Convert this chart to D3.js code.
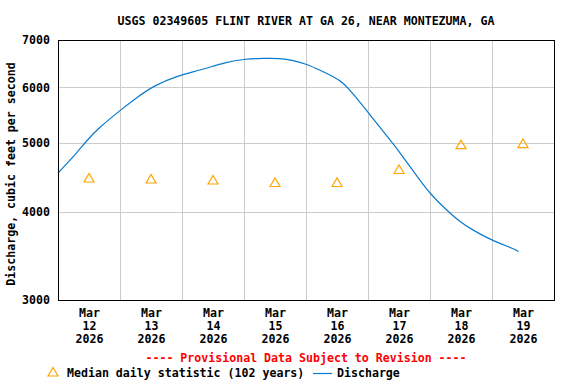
<!DOCTYPE html>
<html>
<head>
<meta charset="utf-8">
<script src="https://cdn.jsdelivr.net/npm/d3@7"></script>
<style>
  html, body { margin: 0; padding: 0; background: #fff; }
  svg { display: block; }
  text { font-family: "DejaVu Sans Mono", monospace; font-weight: bold; font-size: 11.6px; }
</style>
</head>
<body>
<div id="chart"></div>
<script>
// ---- data ----
const TITLE = 'USGS 02349605 FLINT RIVER AT GA 26, NEAR MONTEZUMA, GA';
const Y_LABEL = 'Discharge, cubic feet per second';
const Y_TICKS = [3000, 4000, 5000, 6000, 7000];

// discharge, instantaneous values (time, cfs)
const dischargeTimes = [
  '2026-03-12T00:00', '2026-03-12T07:00', '2026-03-12T11:00', '2026-03-12T16:00',
  '2026-03-13T00:00', '2026-03-13T06:30', '2026-03-13T13:00', '2026-03-13T22:00',
  '2026-03-14T07:00', '2026-03-14T17:20', '2026-03-14T23:45', '2026-03-15T07:30',
  '2026-03-15T14:00', '2026-03-15T19:00', '2026-03-16T00:15', '2026-03-16T05:25',
  '2026-03-16T10:35', '2026-03-16T14:25', '2026-03-16T18:20', '2026-03-16T23:30',
  '2026-03-17T04:40', '2026-03-17T09:50', '2026-03-17T15:00', '2026-03-17T20:10',
  '2026-03-18T00:00', '2026-03-18T06:30', '2026-03-18T11:40', '2026-03-18T16:45',
  '2026-03-18T21:55', '2026-03-19T03:05', '2026-03-19T08:15', '2026-03-19T10:15'
];
const dischargeValues = [
  4538, 4830, 5040, 5265,
  5564, 5804, 6029, 6228,
  6344, 6517, 6575, 6596,
  6596, 6553, 6469, 6345,
  6215, 6094, 5868, 5559,
  5265, 4990, 4700, 4429,
  4242, 4018, 3868, 3765,
  3677, 3606, 3548, 3514
];

// median daily statistic (102 years), plotted at noon
const medianDays = ['2026-03-12', '2026-03-13', '2026-03-14', '2026-03-15',
                    '2026-03-16', '2026-03-17', '2026-03-18', '2026-03-19'];
const medianValues = [4465, 4450, 4436, 4400, 4400, 4590, 4978, 4995];

// ---- layout ----
const W = 576, H = 384;
const M = { left: 58, right: 22, top: 40, bottom: 84 };
const innerW = W - M.left - M.right;
const innerH = H - M.top - M.bottom;
const COLORS = { line: '#0a7acc', median: '#ffa500', grid: '#cccccc', warn: '#ff0000' };

const parseT = d3.timeParse('%Y-%m-%dT%H:%M');
const parseD = d3.timeParse('%Y-%m-%d');

const discharge = dischargeTimes.map((t, i) => ({ t: parseT(t), v: dischargeValues[i] }));
const medians = medianDays.map((d, i) => ({ t: d3.timeHour.offset(parseD(d), 12), v: medianValues[i] }));

const x = d3.scaleTime()
  .domain([parseD('2026-03-12'), parseD('2026-03-20')])
  .range([0, innerW]);
const y = d3.scaleLog()
  .domain([3000, 7000])
  .range([innerH, 0]);

const svg = d3.select('#chart').append('svg')
  .attr('width', W).attr('height', H)
  .attr('viewBox', `0 0 ${W} ${H}`);

svg.append('text')
  .attr('x', M.left + innerW / 2)
  .attr('y', 24.5)
  .attr('text-anchor', 'middle')
  .text(TITLE);

const g = svg.append('g').attr('transform', `translate(${M.left},${M.top})`);

// gridlines
const dayLines = d3.timeDay.range(parseD('2026-03-13'), parseD('2026-03-20'));
g.append('g').selectAll('line.vg')
  .data(dayLines).join('line')
  .attr('x1', d => Math.round(x(d)) + 0.5).attr('x2', d => Math.round(x(d)) + 0.5)
  .attr('y1', 0).attr('y2', innerH)
  .attr('stroke', COLORS.grid).attr('stroke-width', 1.5)
  .attr('shape-rendering', 'crispEdges');
g.append('g').selectAll('line.hg')
  .data([4000, 5000, 6000]).join('line')
  .attr('x1', 0).attr('x2', innerW)
  .attr('y1', d => Math.round(y(d)) + 0.5).attr('y2', d => Math.round(y(d)) + 0.5)
  .attr('stroke', COLORS.grid).attr('stroke-width', 1.5)
  .attr('shape-rendering', 'crispEdges');

// y axis labels
const yAxis = g.append('g').call(d3.axisLeft(y).tickValues(Y_TICKS).tickFormat(d3.format('d')).tickSize(0).tickPadding(8));
yAxis.select('.domain').remove();
yAxis.selectAll('text').attr('font-size', null).attr('font-family', null).attr('fill', '#000');

// x axis labels: three lines at noon of each day
const noonTicks = medianDays.map(d => d3.timeHour.offset(parseD(d), 12));
const xAxis = g.append('g').attr('transform', `translate(0,${innerH})`)
  .call(d3.axisBottom(x).tickValues(noonTicks).tickSize(0).tickFormat(''));
xAxis.select('.domain').remove();
xAxis.selectAll('.tick').append('text')
  .attr('fill', '#000')
  .attr('text-anchor', 'middle')
  .selectAll('tspan')
  .data(d => [d3.timeFormat('%b')(d), d3.timeFormat('%d')(d), d3.timeFormat('%Y')(d)])
  .join('tspan')
  .attr('x', 0)
  .attr('y', (d, i) => 16.5 + i * 13.3)
  .text(d => d);

// discharge line
const line = d3.line().x(d => x(d.t)).y(d => y(d.v)).curve(d3.curveBasis);
g.append('path')
  .datum(discharge)
  .attr('fill', 'none')
  .attr('stroke', COLORS.line)
  .attr('stroke-width', 1.2)
  .attr('d', line);

// median triangles
const tri = (cx, cy) => `M${cx - 5},${cy + 4}L${cx},${cy - 4.5}L${cx + 5},${cy + 4}Z`;
g.append('g').selectAll('path')
  .data(medians).join('path')
  .attr('d', d => tri(x(d.t), y(d.v)))
  .attr('fill', 'none')
  .attr('stroke', COLORS.median)
  .attr('stroke-width', 1.2);

// frame
g.append('rect')
  .attr('x', 0.5).attr('y', 0.5)
  .attr('width', innerW).attr('height', innerH)
  .attr('fill', 'none').attr('stroke', '#000').attr('stroke-width', 1.5)
  .attr('shape-rendering', 'crispEdges');

// y axis title
svg.append('text')
  .attr('transform', `translate(15,174) rotate(-90)`)
  .attr('text-anchor', 'middle')
  .text(Y_LABEL);

// provisional notice
svg.append('text')
  .attr('x', M.left + innerW / 2)
  .attr('y', 361.5)
  .attr('text-anchor', 'middle')
  .attr('fill', COLORS.warn)
  .text('---- Provisional Data Subject to Revision ----');

// legend
const leg = svg.append('g');
leg.append('path').attr('d', tri(53, 372)).attr('fill', 'none')
  .attr('stroke', COLORS.median).attr('stroke-width', 1.2);
leg.append('text').attr('x', 67).attr('y', 377).text('Median daily statistic (102 years)');
leg.append('line').attr('x1', 313).attr('x2', 332).attr('y1', 373.5).attr('y2', 373.5)
  .attr('stroke', COLORS.line).attr('stroke-width', 1.2);
leg.append('text').attr('x', 337).attr('y', 377).text('Discharge');
</script>
</body>
</html>
